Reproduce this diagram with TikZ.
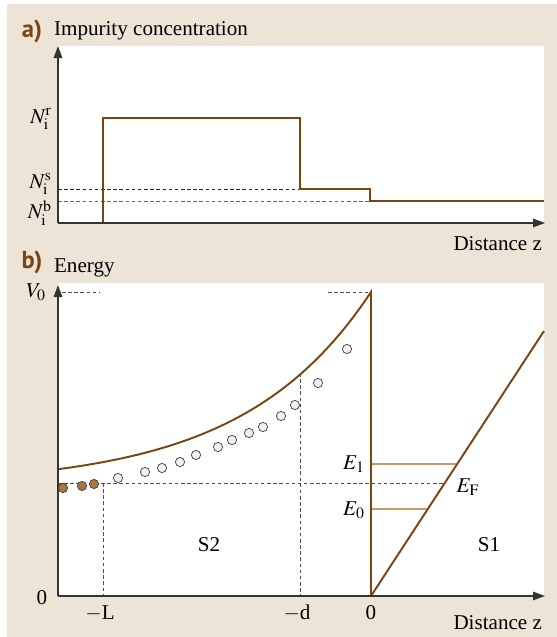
\documentclass[tikz,border=0pt]{standalone}
\usepackage{mathptmx}
\usepackage{fontspec}
\setmainfont{Liberation Serif}
\setsansfont{PT Sans}
\usetikzlibrary{arrows.meta}
\definecolor{paper}{HTML}{EDE4D8}
\definecolor{rust}{HTML}{7A4512}
\definecolor{tanline}{HTML}{C49A6A}
\definecolor{donorfill}{HTML}{A8763F}

\begin{document}
\begin{tikzpicture}[
      x={(0.02cm,0)}, y={(0,-0.02cm)},
      every node/.style={font=\fontsize{12}{14}\selectfont, inner sep=1pt},
      axis/.style={draw=black!80, line width=0.8pt, -{Triangle[length=2.4mm,width=1.7mm]}},
      profile/.style={draw=rust, line width=1.1pt},
      guide/.style={draw=black!#1, dash pattern=on 2pt off 1.5pt, line width=0.5pt},
      level/.style={draw=tanline, line width=1.3pt},
      electron/.style={circle, draw=black!75, fill=#1, inner sep=0pt, minimum size=0.185cm},
      panel/.style={font=\sffamily\bfseries\fontsize{14}{16}\selectfont, text=rust}
    ]
      \useasboundingbox (0,0) rectangle (557,637);
      \fill[paper] (7,4) rectangle (557,637);
      \fill[white] (58,46) rectangle (544,223);
      \fill[white] (58,283) rectangle (544,596);

      % a) impurity profile
      \coordinate (oa) at (58,223);
      \node[panel] (la) at (32,31) {a)};
      \node[anchor=west] (ta) at (52,31) {Impurity concentration};
      \draw[guide=85] (oa |- 0,189) -- (300,189);
      \draw[guide=60] (oa |- 0,201) -- (370,201);
      \draw[profile] (103,223) |- (300,118) |- (370,189) |- (544,201);
      \draw[axis] (oa) -- (58,46);
      \draw[axis] (oa) -- (545,223);
      \node[anchor=east] (nr) at (54,119) {$N_\mathrm{i}^\mathrm{r}$};
      \node[anchor=east] (ns) at (54,184) {$N_\mathrm{i}^\mathrm{s}$};
      \node[anchor=east] (nb) at (54,213) {$N_\mathrm{i}^\mathrm{b}$};
      \node[anchor=east] (za) at (544,244) {Distance z};

      % b) energy diagram
      \coordinate (ob) at (58,596);
      \coordinate (top) at (371,292);
      \coordinate (zero) at (371,596);
      \node[panel] (lb) at (32,262) {b)};
      \node[anchor=west] (tb) at (52,268) {Energy};
      \draw[guide=70] (62,292) -- (100,292);
      \draw[guide=70] (328,292) -- (top);
      \draw[guide=70] (58,483) -- (445,483);
      \draw[guide=70] (103,483) -- (103,596);
      \draw[guide=70] (300,373) -- (300,596);
      \draw[level] (371,464) -- (457,464);
      \draw[level] (371,509) -- (428,509);
      \draw[profile] plot[domain=58:371, samples=80] (\x, {486-194*exp((\x-371)/128)}) -- (zero);
      \draw[profile] (zero) -- (544,331);
      \draw[axis] (ob) -- (58,285);
      \draw[axis] (ob) -- (545,596);

      \foreach \x/\y in {63/488, 82/486, 94/484}
        \node[electron=donorfill] at (\x,\y) {};
      \foreach \x/\y in {118/478, 145/472, 162/468, 180/462, 196/455, 218/447, 232/440,
                         249/433, 263/427, 281/416, 295/405, 318/383, 347/349}
        \node[electron=gray!12] at (\x,\y) {};

      \node[anchor=east] (v0) at (48,292) {$V_0$};
      \node (e1) at (354,464) {$E_1$};
      \node (e0) at (354,510) {$E_0$};
      \node (ef) at (468,487) {$E_\mathrm{F}$};
      \node (s2) at (209,545) {S2};
      \node (s1) at (489,545) {S1};
      \node (z0) at (42,598) {0};
      \node (zl) at (100,613) {$-$L};
      \node (zd) at (297,613) {$-$d};
      \node (zz) at (371,613) {0};
      \node[anchor=east] (zb) at (544,623) {Distance z};
    \end{tikzpicture}
\end{document}
